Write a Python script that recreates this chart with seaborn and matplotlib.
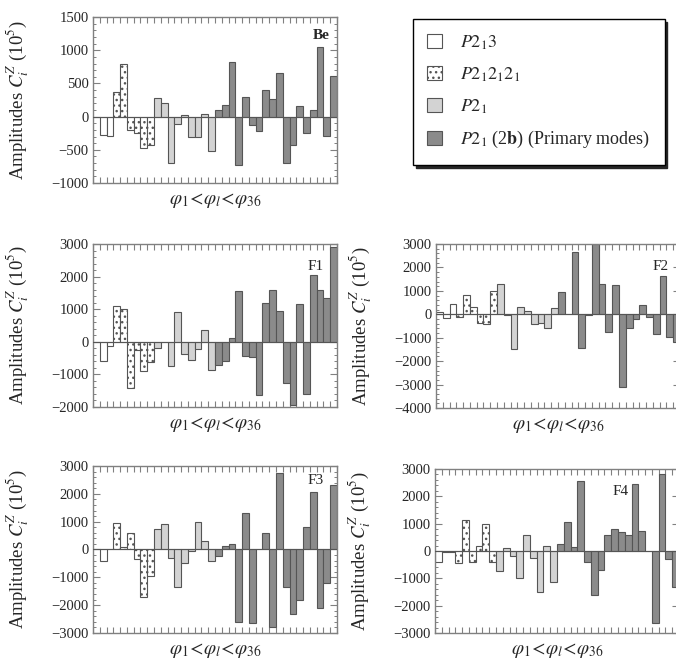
"""
Mode amplitudes C_i^Z for the five panels (Be, F1..F4)
"""
import numpy as np
import pandas as pd
import matplotlib
matplotlib.use("Agg")
import matplotlib.pyplot as plt
import matplotlib.patches as mpatches
from matplotlib.ticker import MultipleLocator, AutoMinorLocator
import seaborn as sns

modes = list(range(1, 37))
group_names = [r"$P2_13$", r"$P2_12_12_1$", r"$P2_1$", r"$P2_1$ (2$\mathbf{b}$) (Primary modes)"]
group_sizes = [3, 6, 9, 18]

be = [-10, -270, -295, 370, 790, -195, -245, -470, -420,
      285, 210, -705, -105, 20, -310, -300, 45, -520,
      95, 175, 830, -730, 295, -125, -215, 395, 270, 655, -705, -420, 155, -240, 95, 1045, -285, 615]
f1 = [0, -595, -130, 1095, 1015, -1415, -255, -880, -625,
      -205, -20, -750, 920, -360, -545, -235, 350, -850,
      -700, -600, 130, 1550, -420, -480, -1620, 1200, 1600, 960, -1250, -1950, 1150, -1600, 2050, 1580, 1350, 2900]
f2 = [100, -150, 450, -100, 830, 300, -350, -400, 1000,
      1300, -50, -1500, 320, 120, -400, -350, -600, 250,
      950, 0, 2650, -1450, -50, 3000, 1300, -750, 1250, -3100, -600, -200, 400, -100, -850, 1650, -950, -1200]
f3 = [20, -400, 30, 950, 100, 600, -350, -1700, -950,
      750, 900, -300, -1350, -500, -50, 1000, 300, -400,
      -250, 120, 180, -2600, 1300, -2650, 30, 600, -2800, 2750, -1350, -2300, -1800, 800, 2050, -2100, -1200, 2300]
f4 = [-400, -50, -50, -450, 1150, -400, 200, 1000, -400,
      -750, 100, -200, -1000, 600, -250, -1500, 200, -1150,
      250, 1050, 150, 2550, -400, -1600, -700, 600, 800, 700, 600, 2450, 750, 0, -2650, 2800, -300, -1300]

panel_names = ["Be", "F1", "F2", "F3", "F4"]
panel_values = [be, f1, f2, f3, f4]
panel_ylim = [(-1000, 1500), (-2000, 3000), (-4000, 3000), (-3000, 3000), (-3000, 3000)]
panel_ystep = [500, 1000, 1000, 1000, 1000]

face_colors = ["white", "white", "#d3d3d3", "#8b8b8b"]
edge = "#555555"
frame = "#808080"

sns.set_style("white")
plt.rcParams["font.family"] = ["Liberation Serif", "DejaVu Serif"]
plt.rcParams["mathtext.fontset"] = "stix"
plt.rcParams["hatch.linewidth"] = 1.0
plt.rcParams["hatch.color"] = "#555555"

groups = []
for name, n in zip(group_names, group_sizes):
    groups += [name] * n

fig = plt.figure(figsize=(6.76, 6.68), dpi=100)
boxes = [
    [0.1376, 0.726, 0.361, 0.2485],
    [0.1376, 0.3907, 0.361, 0.244],
    [0.645, 0.3892, 0.361, 0.2455],
    [0.1376, 0.0524, 0.361, 0.25],
    [0.6435, 0.0524, 0.361, 0.2455],
]
label_pos = [(0.97, 0.93, "right"), (0.945, 0.90, "right"), (0.955, 0.90, "right"),
             (0.945, 0.95, "right"), (0.76, 0.90, "center")]

for i, (name, vals) in enumerate(zip(panel_names, panel_values)):
    ax = fig.add_axes(boxes[i])
    df = pd.DataFrame({"mode": modes, "amp": vals, "group": groups})
    sns.barplot(data=df, x="mode", y="amp", hue="group", hue_order=group_names,
                palette=dict(zip(group_names, face_colors)), dodge=False, width=1.0,
                edgecolor=edge, linewidth=0.8, legend=False, ax=ax, order=modes)
    for bar in ax.containers[1]:
        bar.set_hatch("...")
    ax.axhline(0, color=edge, lw=0.8, zorder=3)
    ax.set_xlim(-0.5, 35.5)
    ax.set_xticks(np.arange(-0.5, 36, 1))
    ax.xaxis.set_major_formatter(plt.NullFormatter())
    ax.yaxis.set_major_locator(MultipleLocator(panel_ystep[i]))
    ax.yaxis.set_minor_locator(AutoMinorLocator(5))
    ax.tick_params(axis="x", which="both", direction="in", top=True, bottom=True,
                   length=4, width=0.8, color=frame)
    ax.tick_params(axis="y", which="major", direction="in", left=True, right=True,
                   length=5, width=0.8, color=frame, labelsize=10.5, pad=3)
    ax.tick_params(axis="y", which="minor", direction="in", left=True, right=True,
                   length=2.5, width=0.7, color=frame)
    lo, hi = panel_ylim[i]
    yt = np.arange(lo, hi + 1, panel_ystep[i])
    ax.set_yticks(yt)
    ax.set_yticklabels([f"{int(v)}".replace("-", "\u2212") for v in yt])
    ax.set_ylim(lo, hi)
    for s in ax.spines.values():
        s.set_color(frame)
        s.set_linewidth(1.0)
    ax.set_ylabel(r"Amplitudes $C_i^Z$ (10$^5$)", fontsize=13.5)
    ax.yaxis.set_label_coords(-0.255, 0.5)
    ax.set_xlabel(r"$\varphi_1\!<\!\varphi_l\!<\!\varphi_{36}$", fontsize=14)
    ax.xaxis.label.set_va("center")
    ax.xaxis.set_label_coords(0.5, -0.105)
    lx, ly, ha = label_pos[i]
    ax.text(lx, ly, name, transform=ax.transAxes, ha=ha, va="top", fontsize=11,
            fontweight="bold" if name == "Be" else "normal", zorder=5)

handles = []
for name, fc in zip(group_names, face_colors):
    p = mpatches.Patch(facecolor=fc, edgecolor=edge, linewidth=0.8, label=name)
    handles.append(p)
handles[1].set_hatch("...")
fig.legend(handles=handles, loc="upper left", bbox_to_anchor=(0.611, 0.9716),
           frameon=True, fancybox=False, edgecolor="black", shadow={"color": "0.15", "alpha": 1},
           fontsize=13, labelspacing=0.75, handlelength=0.8, handleheight=0.8,
           handletextpad=1.0, borderpad=0.8, borderaxespad=0)

fig.savefig("out.png", dpi=100)
